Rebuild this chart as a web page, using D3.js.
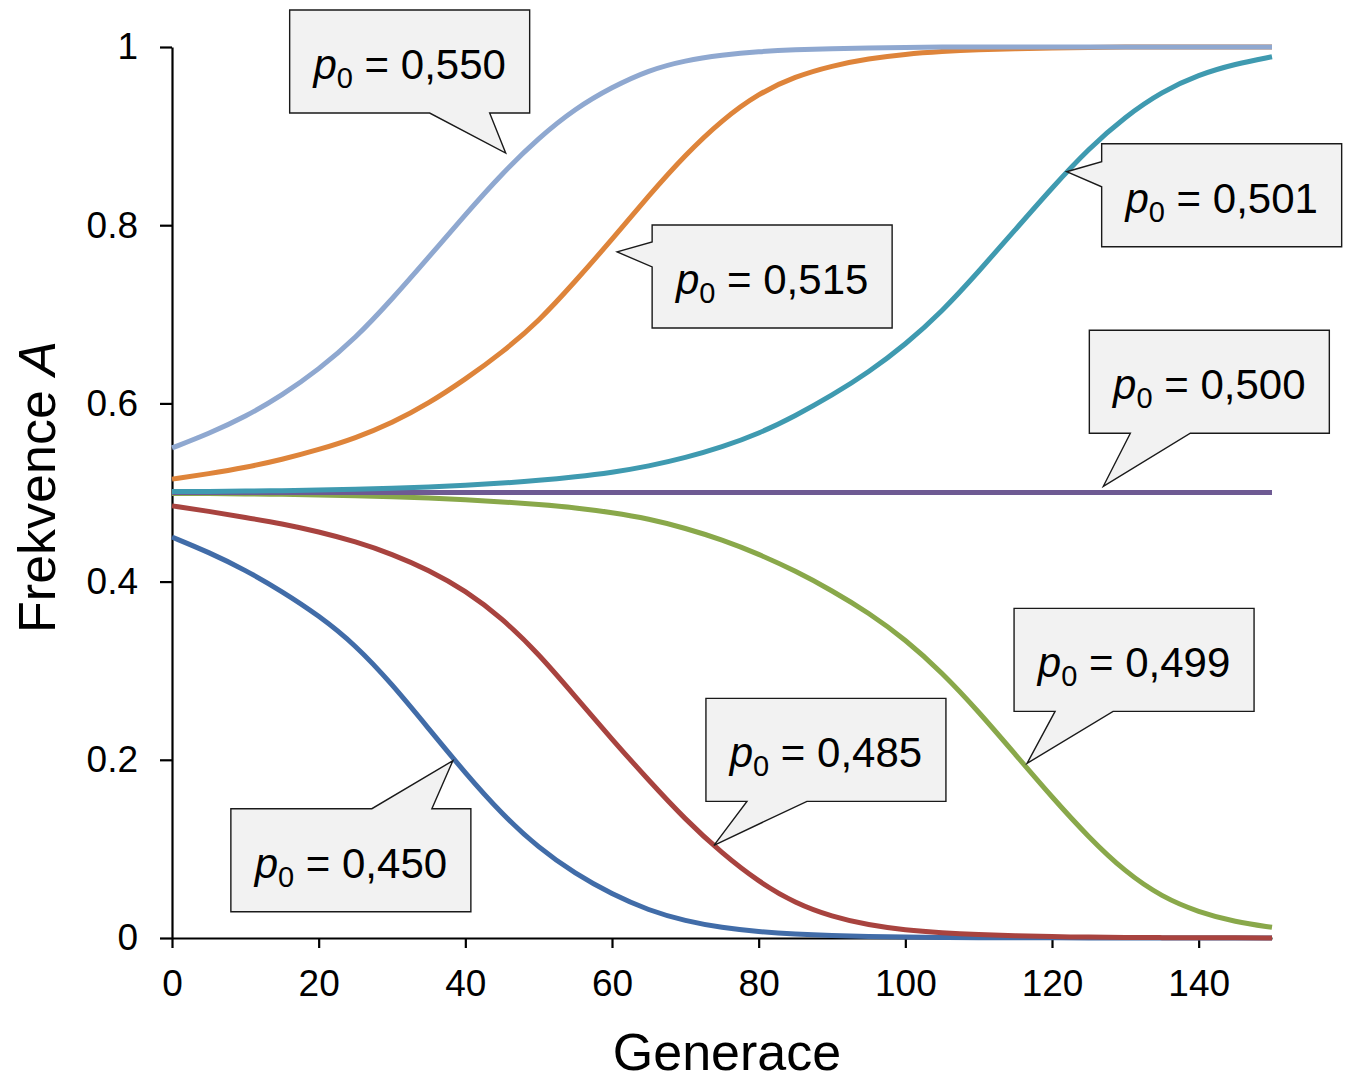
<!DOCTYPE html>
<html>
<head>
<meta charset="utf-8">
<script src="https://cdn.jsdelivr.net/npm/d3@7/dist/d3.min.js"></script>
<style>
  body { margin: 0; background: #ffffff; }
  svg { display: block; }
  text { font-family: "Liberation Sans", Arial, Helvetica, sans-serif; fill: #000; white-space: pre; }
</style>
</head>
<body>
<svg id="chart" width="1345" height="1081"></svg>
<script>
// ---------------- DATA ----------------
const generations = [0,5,10,15,20,25,30,35,40,45,50,55,60,65,70,75,80,85,90,95,100,105,110,115,120,125,130,135,140,145,150];

const p450 = [0.450,0.433,0.413,0.389,0.362,0.329,0.285,0.235,0.185,0.139,0.101,0.072,0.049,0.031,0.019,0.0115,0.007,0.0043,0.0026,0.0016,0.001,0.0006,0.0004,0.0002,0.00015,0.0001,0.00005,0.00003,0.00002,0.00001,0];
const p485 = [0.485,0.479,0.472,0.465,0.456,0.445,0.431,0.413,0.390,0.359,0.319,0.271,0.223,0.177,0.133,0.095,0.063,0.039,0.024,0.0145,0.009,0.0058,0.0037,0.0024,0.0015,0.001,0.0006,0.0004,0.0003,0.0002,0.0001];
const p499 = [0.499,0.4988,0.4984,0.498,0.4973,0.4965,0.4954,0.494,0.492,0.4895,0.4865,0.483,0.4775,0.4705,0.460,0.447,0.431,0.412,0.390,0.365,0.335,0.298,0.254,0.206,0.158,0.113,0.074,0.046,0.029,0.018,0.012];
const p500 = [0.5,0.5,0.5,0.5,0.5,0.5,0.5,0.5,0.5,0.5,0.5,0.5,0.5,0.5,0.5,0.5,0.5,0.5,0.5,0.5,0.5,0.5,0.5,0.5,0.5,0.5,0.5,0.5,0.5,0.5,0.5];
const p501 = [0.501,0.5012,0.5016,0.502,0.5027,0.5035,0.5046,0.506,0.508,0.5105,0.5135,0.5175,0.5225,0.5295,0.539,0.551,0.566,0.586,0.609,0.635,0.666,0.703,0.748,0.795,0.842,0.886,0.922,0.950,0.969,0.981,0.989];
const p515 = [0.515,0.521,0.528,0.537,0.548,0.561,0.578,0.600,0.627,0.657,0.692,0.737,0.784,0.833,0.879,0.918,0.948,0.967,0.979,0.987,0.992,0.995,0.997,0.998,0.999,0.9995,1,1,1,1,1];
const p550 = [0.550,0.566,0.585,0.609,0.638,0.673,0.717,0.764,0.812,0.858,0.898,0.931,0.955,0.974,0.985,0.991,0.995,0.997,0.998,0.999,0.9995,1,1,1,1,1,1,1,1,1,1];

// series in drawing order
const seriesLabels = ["0,450","0,485","0,499","0,500","0,501","0,515","0,550"];
const seriesValues = [p450, p485, p499, p500, p501, p515, p550];

// callout anchor points on the curves (generation, frequency)
const calloutGen   = [38.3, 73.9, 116.6, 127.0, 122.0, 60.7, 45.5];
const calloutValue = [0.199, 0.104, 0.196, 0.507, 0.860, 0.770, 0.881];

const xTicks = [0,20,40,60,80,100,120,140];
const yTicks = [0,0.2,0.4,0.6,0.8,1];
const yTickLabels = ["0","0.2","0.4","0.6","0.8","1"];

// ---------------- STYLE / LAYOUT ----------------
const colors = ["#416ca8","#a8433f","#89a84a","#6e5a93","#3f9ab0","#de843a","#8fa8d0"];
// box offset relative to tip (px), pointer side, base offsets along side
const calloutLayout = [
  {dx:-222, dy:48,   side:"top",    b1:141, b2:201},
  {dx:-8,   dy:-147, side:"bottom", b1:41,  b2:101},
  {dx:-13,  dy:-155, side:"bottom", b1:41,  b2:99},
  {dx:-14,  dy:-156, side:"bottom", b1:41,  b2:101},
  {dx:35,   dy:-28,  side:"left",   b1:18,  b2:43},
  {dx:35,   dy:-27,  side:"left",   b1:17,  b2:42},
  {dx:-216, dy:-143, side:"bottom", b1:140, b2:200}
];
const boxW = 240, boxH = 103;

const svg = d3.select("#chart");
svg.append("rect").attr("width",1345).attr("height",1081).attr("fill","#fff");

const x = d3.scaleLinear().domain([0,150]).range([172,1272]);
const y = d3.scaleLinear().domain([0,1]).range([938,47]);

// axes
const xAxis = d3.axisBottom(x).tickValues(xTicks).tickFormat(d => String(d))
  .tickSize(10).tickSizeOuter(0).tickPadding(22);
const gx = svg.append("g").attr("transform","translate(0,938)").call(xAxis);

const yAxis = d3.axisLeft(y).tickValues(yTicks).tickFormat((d,i) => yTickLabels[i])
  .tickSize(12).tickSizeOuter(0).tickPadding(22);
const gy = svg.append("g").attr("transform","translate(172,0)").call(yAxis);

[gx, gy].forEach(g => {
  g.select(".domain").attr("stroke","#000").attr("stroke-width",2.2);
  g.selectAll(".tick line").attr("stroke","#000").attr("stroke-width",2.2);
  g.selectAll(".tick text").attr("font-size",37).attr("fill","#000")
    .attr("font-family","'Liberation Sans', Arial, sans-serif");
});

// lines
const line = d3.line()
  .x((d,i) => x(generations[i]))
  .y(d => y(d))
  .curve(d3.curveBasis);

seriesValues.forEach((vals, k) => {
  svg.append("path")
    .datum(vals)
    .attr("fill","none")
    .attr("stroke",colors[k])
    .attr("stroke-width",5)
    .attr("d",line);
});

// callouts
seriesLabels.forEach((lab, k) => {
  const tx = x(calloutGen[k]), ty = y(calloutValue[k]);
  const L = calloutLayout[k];
  const l = tx + L.dx, t = ty + L.dy, r = l + boxW, b = t + boxH;
  let p;
  if (L.side === "bottom") {
    p = `M${l},${t}H${r}V${b}H${l+L.b2}L${tx},${ty}L${l+L.b1},${b}H${l}Z`;
  } else if (L.side === "top") {
    p = `M${l},${t}H${l+L.b1}L${tx},${ty}L${l+L.b2},${t}H${r}V${b}H${l}Z`;
  } else {
    p = `M${l},${t}H${r}V${b}H${l}V${t+L.b2}L${tx},${ty}L${l},${t+L.b1}Z`;
  }
  svg.append("path").attr("d",p).attr("fill","#f2f2f2")
    .attr("stroke","#1a1a1a").attr("stroke-width",1.4).attr("stroke-linejoin","miter");
  const txt = svg.append("text").attr("x", l + boxW/2).attr("y", t + 69)
    .attr("text-anchor","middle").attr("font-size",42);
  txt.append("tspan").attr("font-style","italic").text("p");
  txt.append("tspan").attr("font-size",29).attr("dy",9).text("0");
  txt.append("tspan").attr("dy",-9).text(" = " + lab);
});

// axis titles
svg.append("text").attr("x",727).attr("y",1070).attr("text-anchor","middle")
  .attr("font-size",52).text("Generace");

const yt = svg.append("text").attr("transform","translate(55,487) rotate(-90)")
  .attr("text-anchor","middle").attr("font-size",52);
yt.append("tspan").text("Frekvence ");
yt.append("tspan").attr("font-style","italic").text("A");
</script>
</body>
</html>
